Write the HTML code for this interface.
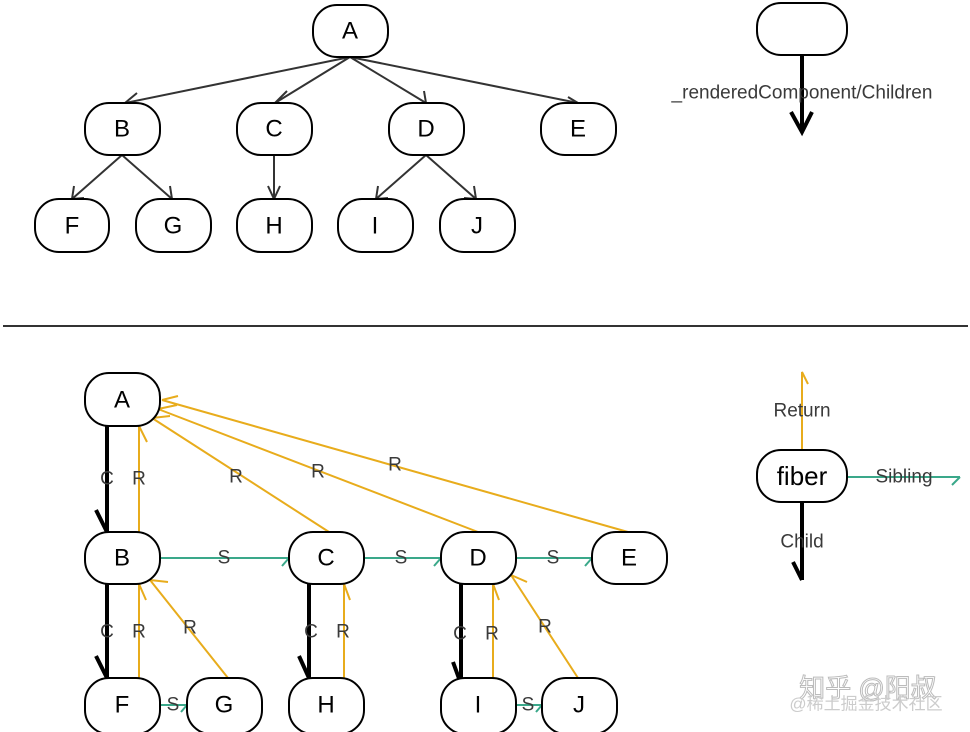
<!DOCTYPE html>
<html><head><meta charset="utf-8"><style>
html,body{margin:0;padding:0;background:#fff;}
svg{display:block;}
text{font-family:"Liberation Sans",sans-serif;}
</style></head><body>
<svg width="970" height="732" viewBox="0 0 970 732" xmlns="http://www.w3.org/2000/svg">
<defs>
<style>
.n{fill:#fff;stroke:#000;stroke-width:2;}
.t{font-size:24px;text-anchor:middle;dominant-baseline:central;fill:#000;}
.e{stroke:#333;stroke-width:2;fill:none;}
.o{stroke:#e8ac1c;stroke-width:2;fill:none;}
.g{stroke:#3aa88a;stroke-width:2;fill:none;}
.k{stroke:#000;stroke-width:4;fill:none;}
.l{font-size:19px;text-anchor:middle;dominant-baseline:central;fill:#3a3a3a;}
</style>
</defs>
<g class="e">
<path d="M350 57 L125 103 M350 57 L275 103 M350 57 L426 103 M350 57 L578 103"/>
<path d="M137 93 L125 103 L139 106 M287 91 L275 103 M424 91 L426 103 L414 103 M566 106 L578 103 L568 97"/>
<path d="M122 155 L72 199 M122 155 L172 199 M72 199 L74 186 M72 199 L84 198 M172 199 L170 186"/>
<path d="M274 155 L274 199 M268 186 L274 199 L280 186"/>
<path d="M426 155 L376 199 M426 155 L476 199 M376 199 L378 186 M376 199 L388 198 M476 199 L474 186 M476 199 L464 198"/>
</g>
<g>
<rect class="n" x="313" y="5" width="75" height="52" rx="24"/><text class="t" x="350" y="31">A</text>
<rect class="n" x="85" y="103" width="75" height="52" rx="24"/><text class="t" x="122" y="129">B</text>
<rect class="n" x="237" y="103" width="75" height="52" rx="24"/><text class="t" x="274" y="129">C</text>
<rect class="n" x="389" y="103" width="75" height="52" rx="24"/><text class="t" x="426" y="129">D</text>
<rect class="n" x="541" y="103" width="75" height="52" rx="24"/><text class="t" x="578" y="129">E</text>
<rect class="n" x="35" y="199" width="74" height="53" rx="24"/><text class="t" x="72" y="226">F</text>
<rect class="n" x="136" y="199" width="75" height="53" rx="24"/><text class="t" x="173" y="226">G</text>
<rect class="n" x="237" y="199" width="75" height="53" rx="24"/><text class="t" x="274" y="226">H</text>
<rect class="n" x="338" y="199" width="75" height="53" rx="24"/><text class="t" x="375" y="226">I</text>
<rect class="n" x="440" y="199" width="75" height="53" rx="24"/><text class="t" x="477" y="226">J</text>
</g>
<rect class="n" x="757" y="3" width="90" height="52" rx="24"/>
<path class="k" d="M802 55 L802 132 M791 112 L802 132 L812 112"/>
<text class="l" x="802" y="93">_renderedComponent/Children</text>
<line x1="3" y1="326" x2="968" y2="326" stroke="#333" stroke-width="2"/>

<g class="o">
<path d="M139 532 L139 426 M139 426 L147 442"/>
<path d="M329 532 L152 418 M152 418 L170 416"/>
<path d="M478 532 L158 409 M158 409 L177 405"/>
<path d="M628 532 L162 400 M162 400 L178 396"/>
<path d="M139 678 L139 584 M139 584 L146 600"/>
<path d="M228 678 L150 580 M150 580 L168 582"/>
<path d="M344 678 L344 584 M344 584 L350 600"/>
<path d="M493 678 L493 584 M493 584 L499 600"/>
<path d="M578 678 L511 575 M511 575 L527 582"/>
<path d="M802 450 L802 372 L808 384"/>
</g>
<g class="k">
<path d="M107 426 L107 532 M96 510 L107 532"/>
<path d="M107 584 L107 678 M96 656 L107 678"/>
<path d="M309 584 L309 678 M299 656 L309 678"/>
<path d="M461 584 L461 684 M453 662 L461 684"/>
<path d="M802 502 L802 580 M793 562 L802 580"/>
</g>
<g class="g">
<path d="M160 558 L289 558 M282 566 L289 558"/>
<path d="M364 558 L441 558 M434 566 L441 558"/>
<path d="M516 558 L592 558 M585 566 L592 558"/>
<path d="M160 705 L187 705 M181 712 L187 705"/>
<path d="M516 705 L542 705 M536 712 L542 705"/>
<path d="M847 477 L960 477 M952 485 L960 477"/>
</g>
<g>
<rect class="n" x="85" y="373" width="75" height="53" rx="24"/><text class="t" x="122" y="400">A</text>
<rect class="n" x="85" y="532" width="75" height="52" rx="24"/><text class="t" x="122" y="558">B</text>
<rect class="n" x="289" y="532" width="75" height="52" rx="24"/><text class="t" x="326" y="558">C</text>
<rect class="n" x="441" y="532" width="75" height="52" rx="24"/><text class="t" x="478" y="558">D</text>
<rect class="n" x="592" y="532" width="75" height="52" rx="24"/><text class="t" x="629" y="558">E</text>
<rect class="n" x="85" y="678" width="75" height="56" rx="24"/><text class="t" x="122" y="705">F</text>
<rect class="n" x="187" y="678" width="75" height="56" rx="24"/><text class="t" x="224" y="705">G</text>
<rect class="n" x="289" y="678" width="75" height="56" rx="24"/><text class="t" x="326" y="705">H</text>
<rect class="n" x="441" y="678" width="75" height="56" rx="24"/><text class="t" x="478" y="705">I</text>
<rect class="n" x="542" y="678" width="75" height="56" rx="24"/><text class="t" x="579" y="705">J</text>
<rect class="n" x="757" y="450" width="90" height="52" rx="24"/><text class="t" x="802" y="476" style="font-size:26px">fiber</text>
</g>
<g class="l">
<text x="107" y="479">C</text><text x="139" y="479">R</text>
<text x="236" y="477">R</text><text x="318" y="472">R</text><text x="395" y="465">R</text>
<text x="224" y="558">S</text><text x="401" y="558">S</text><text x="553" y="558">S</text>
<text x="107" y="632">C</text><text x="139" y="632">R</text><text x="190" y="628">R</text>
<text x="311" y="632">C</text><text x="343" y="632">R</text>
<text x="460" y="634">C</text><text x="492" y="634">R</text><text x="545" y="627">R</text>
<text x="173" y="705">S</text><text x="528" y="705">S</text>
<text x="802" y="411">Return</text><text x="904" y="477">Sibling</text><text x="802" y="542">Child</text>
</g>
<text x="868" y="688" style="font-size:26px;text-anchor:middle;dominant-baseline:central;font-family:'Liberation Sans','Noto Sans CJK SC',sans-serif;fill:#fff;stroke:#bbb;stroke-width:1">知乎 @阳叔</text>
<text x="866" y="704" style="font-size:17px;text-anchor:middle;dominant-baseline:central;font-family:'Liberation Sans','Noto Sans CJK SC',sans-serif;fill:#ccc">@稀土掘金技术社区</text>
</svg>
</body></html>
